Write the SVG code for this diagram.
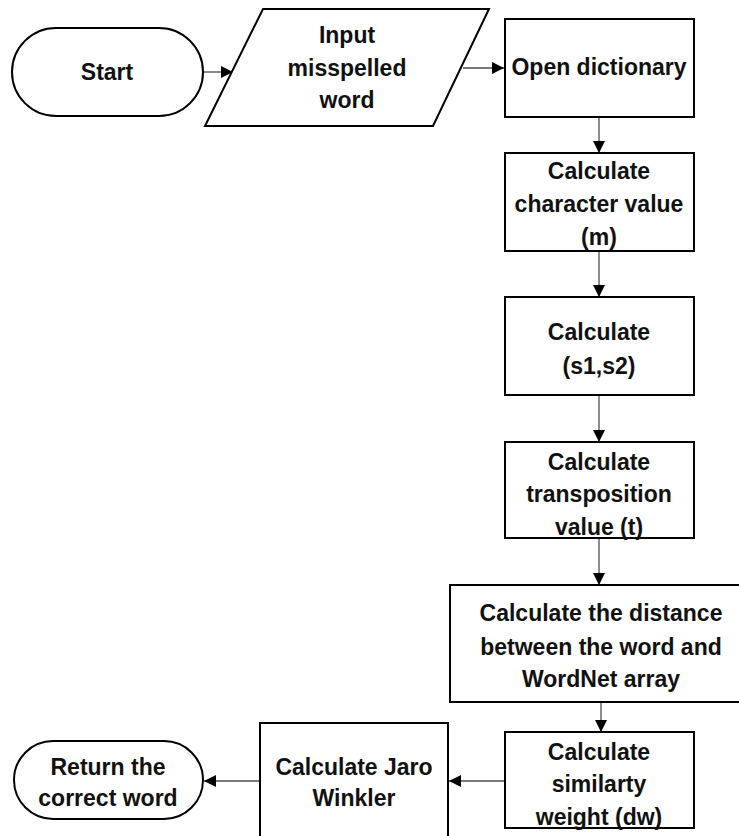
<svg xmlns="http://www.w3.org/2000/svg" width="739" height="836" viewBox="0 0 739 836">
  <style>
    .shape { fill: #ffffff; stroke: #000000; stroke-width: 2; }
    .label { font-family: "Liberation Sans", Arial, sans-serif; font-weight: bold; font-size: 23px; fill: #111111; text-anchor: middle; dominant-baseline: central; }
    .link { fill: none; stroke: #4d4d4d; stroke-width: 1.3; marker-end: url(#arrow); }
  </style>
  <defs>
    <marker id="arrow" viewBox="0 0 12 12" refX="12" refY="6" markerWidth="12" markerHeight="12" markerUnits="userSpaceOnUse" orient="auto">
      <path d="M0,0 L12,6 L0,12 Z" fill="#000000"/>
    </marker>
  </defs>
  <rect width="739" height="836" fill="#ffffff"/>

  <g id="connectors">
    <line class="link" x1="203" y1="72" x2="233" y2="72"/>
    <line class="link" x1="463" y1="68" x2="504" y2="68"/>
    <line class="link" x1="599" y1="117" x2="599" y2="153"/>
    <line class="link" x1="599" y1="251" x2="599" y2="297"/>
    <line class="link" x1="599" y1="395" x2="599" y2="442"/>
    <line class="link" x1="599" y1="538" x2="599" y2="585"/>
    <line class="link" x1="601" y1="702" x2="601" y2="732"/>
    <line class="link" x1="505" y1="781" x2="449" y2="781"/>
    <line class="link" x1="260" y1="781" x2="204" y2="781"/>
  </g>

  <g id="start">
    <rect class="shape" x="12" y="28" width="191" height="88" rx="44" ry="44"/>
    <text class="label" x="107" y="72">Start</text>
  </g>

  <g id="input">
    <polygon class="shape" points="263,9 489,9 433,126 205,126"/>
    <text class="label" x="347" y="35">Input</text>
    <text class="label" x="347" y="68">misspelled</text>
    <text class="label" x="347" y="100">word</text>
  </g>

  <g id="open-dictionary">
    <rect class="shape" x="505" y="19" width="189" height="98"/>
    <text class="label" x="599" y="67">Open dictionary</text>
  </g>

  <g id="character-value">
    <rect class="shape" x="505" y="153" width="189" height="98"/>
    <text class="label" x="599" y="171">Calculate</text>
    <text class="label" x="599" y="204">character value</text>
    <text class="label" x="599" y="237">(m)</text>
  </g>

  <g id="s1-s2">
    <rect class="shape" x="505" y="297" width="189" height="98"/>
    <text class="label" x="599" y="332">Calculate</text>
    <text class="label" x="599" y="366">(s1,s2)</text>
  </g>

  <g id="transposition">
    <rect class="shape" x="505" y="442" width="189" height="96"/>
    <text class="label" x="599" y="462">Calculate</text>
    <text class="label" x="599" y="494">transposition</text>
    <text class="label" x="599" y="527">value (t)</text>
  </g>

  <g id="distance">
    <rect class="shape" x="450" y="585" width="302" height="117"/>
    <text class="label" x="601" y="613">Calculate the distance</text>
    <text class="label" x="601" y="647">between the word and</text>
    <text class="label" x="601" y="679">WordNet array</text>
  </g>

  <g id="similarity-weight">
    <rect class="shape" x="505" y="732" width="189" height="96"/>
    <text class="label" x="599" y="752">Calculate</text>
    <text class="label" x="599" y="784">similarty</text>
    <text class="label" x="599" y="817">weight (dw)</text>
  </g>

  <g id="jaro-winkler">
    <rect class="shape" x="260" y="723" width="188" height="125"/>
    <text class="label" x="354" y="767">Calculate Jaro</text>
    <text class="label" x="354" y="798">Winkler</text>
  </g>

  <g id="return">
    <rect class="shape" x="14" y="741" width="189" height="78" rx="39" ry="39"/>
    <text class="label" x="108" y="767">Return the</text>
    <text class="label" x="108" y="798">correct word</text>
  </g>
</svg>
